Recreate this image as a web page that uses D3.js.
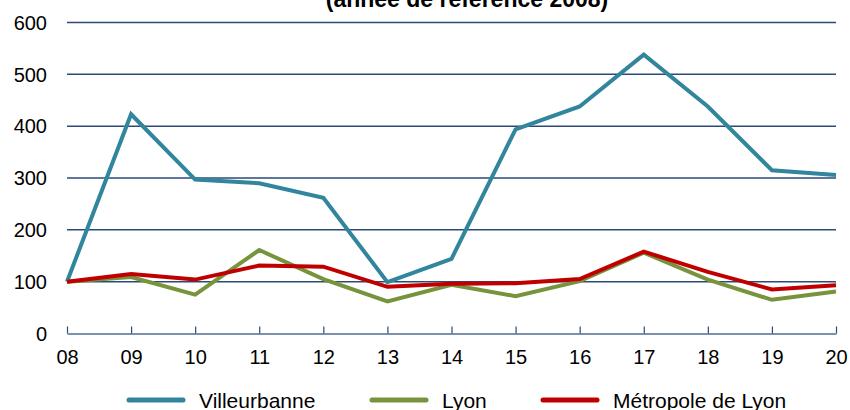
<!DOCTYPE html>
<html>
<head>
<meta charset="utf-8">
<script src="https://cdn.jsdelivr.net/npm/d3@7"></script>
<style>
  html, body { margin: 0; padding: 0; background: #fff; }
  svg { display: block; font-family: "Liberation Sans", Arial, sans-serif; }
</style>
</head>
<body>
<div id="chart"></div>
<script>
(function() {
"use strict";

// data (index, base 100 = 2008)
const years = ["08", "09", "10", "11", "12", "13", "14", "15", "16", "17", "18", "19", "20"];
const villeurbanne = [100, 423, 297, 290, 262, 99, 144, 394, 438, 538, 438, 315, 306];
const lyon = [100, 109, 75, 161, 105, 62, 94, 72, 101, 156, 104, 65, 81];
const metropole = [100, 115, 104, 131, 129, 90, 96, 97, 105, 158, 119, 85, 93];
const yTicks = [0, 100, 200, 300, 400, 500, 600];
const seriesNames = ["Villeurbanne", "Lyon", "Métropole de Lyon"];
const seriesColors = ["#31859c", "#77933c", "#c00000"];
const titleText = "(année de référence 2008)";

const W = 850, H = 410;
const plotLeft = 67, plotRight = 836, plotTop = 22.5, plotBottom = 333.5;

const svg = d3.select("#chart").append("svg")
  .attr("width", W)
  .attr("height", H);

const x = d3.scalePoint().domain(years).range([plotLeft, plotRight]);
const y = d3.scaleLinear().domain([0, 600]).range([plotBottom, plotTop]);

// title (first line is cut off above the frame)
svg.append("text")
  .attr("x", 467)
  .attr("y", 7)
  .attr("text-anchor", "middle")
  .style("font-weight", "bold")
  .style("font-size", "23px")
  .text(titleText);

// horizontal grid
svg.append("g")
  .selectAll("line")
  .data(yTicks.filter(d => d > 0))
  .enter()
  .append("line")
  .attr("x1", plotLeft)
  .attr("x2", plotRight)
  .attr("y1", d => y(d))
  .attr("y2", d => y(d))
  .attr("stroke", "#2a4a78")
  .attr("stroke-width", 1.5);

// y labels
svg.append("g")
  .selectAll("text")
  .data(yTicks)
  .enter()
  .append("text")
  .attr("x", 47)
  .attr("y", d => y(d))
  .attr("dy", "0.36em")
  .attr("text-anchor", "end")
  .style("font-size", "20px")
  .text(d => d);

// x axis: ticks pointing up into the plot
const xAxis = svg.append("g")
  .attr("transform", `translate(0,${plotBottom})`)
  .call(d3.axisBottom(x).tickSizeInner(-7).tickSizeOuter(0).tickPadding(16));
xAxis.select(".domain").attr("stroke", "#4f6d96").attr("stroke-width", 1.5);
xAxis.selectAll(".tick line").attr("stroke", "#2a4a78").attr("stroke-width", 1.2);
xAxis.selectAll(".tick text")
  .style("font-size", "20px")
  .style("font-family", "'Liberation Sans', Arial, sans-serif")
  .attr("fill", "#000");

// series lines
const line = d3.line()
  .x((d, i) => x(years[i]))
  .y(d => y(d));

[villeurbanne, lyon, metropole].forEach((s, k) => {
  svg.append("path")
    .datum(s)
    .attr("fill", "none")
    .attr("stroke", seriesColors[k])
    .attr("stroke-width", 4)
    .attr("d", line);
});

// legend
const legendX = [129, 372, 543];
const legend = svg.append("g")
  .selectAll("g")
  .data(seriesNames)
  .enter()
  .append("g")
  .attr("transform", (d, i) => `translate(${legendX[i]},400)`);
legend.append("line")
  .attr("x1", 0)
  .attr("x2", 54)
  .attr("stroke", (d, i) => seriesColors[i])
  .attr("stroke-width", 5)
  .attr("stroke-linecap", "round");
legend.append("text")
  .attr("x", 70)
  .attr("dy", "0.36em")
  .style("font-size", "21px")
  .text(d => d);

})();
</script>
</body>
</html>
